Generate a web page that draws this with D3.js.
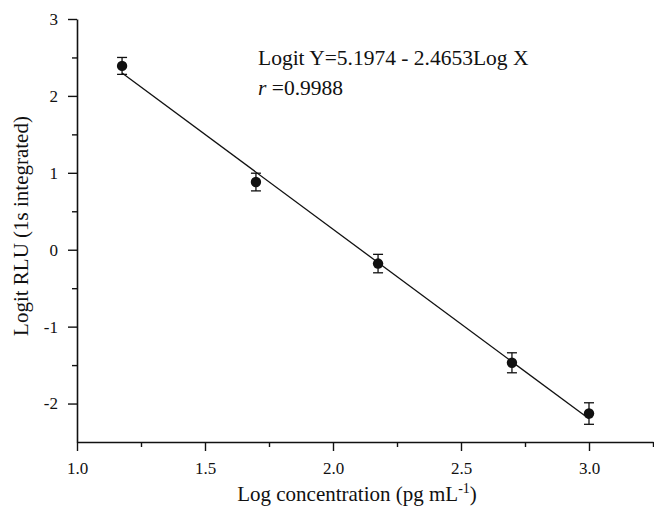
<!DOCTYPE html>
<html>
<head>
<meta charset="utf-8">
<script src="https://cdn.jsdelivr.net/npm/d3@7/dist/d3.min.js"></script>
<style>
  html, body { margin: 0; padding: 0; background: #fff; }
  svg { display: block; font-family: "Liberation Serif", "Times New Roman", serif; }
</style>
</head>
<body>
<svg id="chart" width="654" height="508"></svg>
<script>
// Log concentration (pg mL-1) and measured logit RLU with standard deviations
const logConc   = [1.176, 1.699, 2.176, 2.699, 3.0];
const logitRLU  = [2.39, 0.88, -0.18, -1.47, -2.13];
const errors    = [0.11, 0.115, 0.12, 0.13, 0.14];

// Calibration fit: Logit Y = 5.1974 - 2.4653 Log X
const fitIntercept = 5.1974;
const fitSlope = -2.4653;
const fitR = 0.9988;

const xMajorTicks = [1.0, 1.5, 2.0, 2.5, 3.0];
const xMinorTicks = [1.25, 1.75, 2.25, 2.75, 3.25];
const yMajorTicks = [-2, -1, 0, 1, 2, 3];
const yMinorTicks = [-1.5, -0.5, 0.5, 1.5, 2.5];

const svg = d3.select("#chart");
const margin = { left: 77, top: 19, right: 1, bottom: 66 };
const W = 654, H = 508;

const x = d3.scaleLinear().domain([1.0, 3.25]).range([margin.left, W - margin.right]);
const y = d3.scaleLinear().domain([-2.5, 3]).range([H - margin.bottom, margin.top]);

const ink = "#111";

// X axis: minor ticks first, then the labelled major ticks and the axis line
svg.append("g").attr("transform", `translate(0,${y(-2.5)})`)
  .call(d3.axisBottom(x).tickValues(xMinorTicks).tickFormat("").tickSize(5))
  .call(g => g.select(".domain").remove());
svg.append("g").attr("transform", `translate(0,${y(-2.5)})`)
  .call(d3.axisBottom(x).tickValues(xMajorTicks).tickFormat(d => d.toFixed(1))
    .tickSizeInner(9).tickSizeOuter(0).tickPadding(11));

// Y axis: minor ticks, then major ticks with labels (plain hyphen for negatives)
svg.append("g").attr("transform", `translate(${x(1.0)},0)`)
  .call(d3.axisLeft(y).tickValues(yMinorTicks).tickFormat("").tickSize(5))
  .call(g => g.select(".domain").remove());
svg.append("g").attr("transform", `translate(${x(1.0)},0)`)
  .call(d3.axisLeft(y).tickValues(yMajorTicks).tickFormat(d => String(d))
    .tickSizeInner(9).tickSizeOuter(0).tickPadding(10));

svg.selectAll(".domain").attr("stroke", ink).attr("stroke-width", 1.6);
svg.selectAll(".tick line").attr("stroke", ink).attr("stroke-width", 1.4);
svg.selectAll(".tick text")
  .style("font-family", "'Liberation Serif', serif")
  .style("font-size", "17px")
  .style("fill", ink);

// Regression line over the measured range
const fitData = d3.extent(logConc).map(v => ({ x: v, y: fitIntercept + fitSlope * v }));
svg.append("path")
  .datum(fitData)
  .attr("fill", "none")
  .attr("stroke", ink)
  .attr("stroke-width", 1.3)
  .attr("d", d3.line().x(d => x(d.x)).y(d => y(d.y)));

// Error bars
const pts = logConc.map((v, i) => ({ x: v, y: logitRLU[i], e: errors[i] }));
const eb = svg.append("g").attr("stroke", ink).attr("stroke-width", 1.3);
eb.selectAll("line.v").data(pts).join("line").attr("class", "v")
  .attr("x1", d => x(d.x)).attr("x2", d => x(d.x))
  .attr("y1", d => y(d.y + d.e)).attr("y2", d => y(d.y - d.e));
eb.selectAll("line.t").data(pts).join("line").attr("class", "t")
  .attr("x1", d => x(d.x) - 5).attr("x2", d => x(d.x) + 5)
  .attr("y1", d => y(d.y + d.e)).attr("y2", d => y(d.y + d.e));
eb.selectAll("line.b").data(pts).join("line").attr("class", "b")
  .attr("x1", d => x(d.x) - 5).attr("x2", d => x(d.x) + 5)
  .attr("y1", d => y(d.y - d.e)).attr("y2", d => y(d.y - d.e));

// Data points
svg.append("g").selectAll("circle").data(pts).join("circle")
  .attr("cx", d => x(d.x)).attr("cy", d => y(d.y)).attr("r", 5.2).attr("fill", ink);

// Equation annotation
const ann = svg.append("g").attr("fill", ink).attr("font-size", 21.5);
ann.append("text").attr("x", 258).attr("y", 65)
  .text(`Logit Y=${fitIntercept.toFixed(4)} - ${(-fitSlope).toFixed(4)}Log X`);
const rText = ann.append("text").attr("x", 258).attr("y", 95);
rText.append("tspan").attr("font-style", "italic").text("r");
rText.append("tspan").text(` =${fitR.toFixed(4)}`);

// Axis titles
const xt = svg.append("text").attr("x", 357).attr("y", 501).attr("text-anchor", "middle")
  .attr("fill", ink).attr("font-size", 21);
xt.append("tspan").text("Log concentration (pg mL");
xt.append("tspan").attr("font-size", 14).attr("dy", -8).text("-1");
xt.append("tspan").attr("dy", 8).text(")");

svg.append("text")
  .attr("transform", "translate(28,226) rotate(-90)")
  .attr("text-anchor", "middle")
  .attr("fill", ink).attr("font-size", 21)
  .text("Logit RLU (1s integrated)");
</script>
</body>
</html>
